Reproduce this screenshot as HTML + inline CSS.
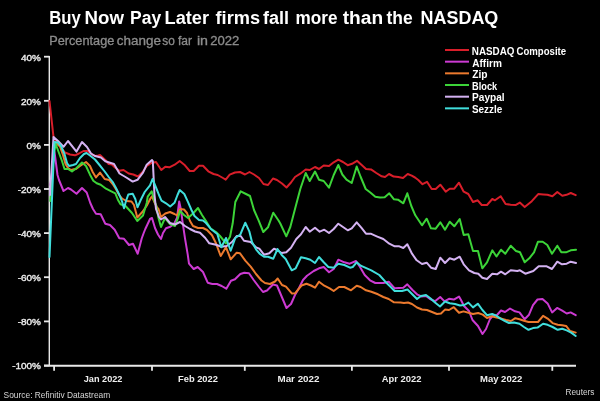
<!DOCTYPE html>
<html><head><meta charset="utf-8"><style>
html,body{margin:0;padding:0;background:#000;width:600px;height:401px;overflow:hidden}
svg{display:block}
text{font-family:"Liberation Sans",Arial,sans-serif}
</style></head><body>
<svg width="600" height="401" viewBox="0 0 600 401">
<rect width="600" height="401" fill="#000"/>
<g font-size="18.3" font-weight="bold" fill="#fff"><text transform="translate(49.16,23.7) scale(0.9113,1)">Buy</text><text transform="translate(84.52,23.7) scale(1.0201,1)">Now</text><text transform="translate(130.1,23.7) scale(0.9568,1)">Pay</text><text transform="translate(164.56,23.7) scale(0.9942,1)">Later</text><text transform="translate(215.55,23.7) scale(0.9966,1)">firms</text><text transform="translate(263.05,23.7) scale(0.984,1)">fall</text><text transform="translate(295.53,23.7) scale(0.9372,1)">more</text><text transform="translate(342.74,23.7) scale(1.047,1)">than</text><text transform="translate(386.46,23.7) scale(0.9547,1)">the</text><text transform="translate(420.57,23.7) scale(0.9812,1)">NASDAQ</text></g>
<g font-size="12" fill="#8c8c8c" stroke="#8c8c8c" stroke-width="0.3"><text transform="translate(49.2,44.5) scale(1.0622,1)">Percentage</text><text transform="translate(116.82,44.5) scale(1.1226,1)">change</text><text transform="translate(162.25,44.5) scale(0.9917,1)">so</text><text transform="translate(177.9,44.5) scale(1.0,1)">far</text><text transform="translate(196.91,44.5) scale(1.1879,1)">in</text><text transform="translate(210.25,44.5) scale(1.0913,1)">2022</text></g>
<g stroke="#e8e8e8" stroke-width="1.8"><line x1="44" y1="56.7" x2="49.5" y2="56.7"/><line x1="44" y1="100.8" x2="49.5" y2="100.8"/><line x1="44" y1="144.9" x2="49.5" y2="144.9"/><line x1="44" y1="189.0" x2="49.5" y2="189.0"/><line x1="44" y1="233.1" x2="49.5" y2="233.1"/><line x1="44" y1="277.2" x2="49.5" y2="277.2"/><line x1="44" y1="321.4" x2="49.5" y2="321.4"/><line x1="44" y1="365.5" x2="49.5" y2="365.5"/><line x1="54.1" y1="365" x2="54.1" y2="370.8"/><line x1="152" y1="365" x2="152" y2="370.8"/><line x1="244.8" y1="365" x2="244.8" y2="370.8"/><line x1="351.9" y1="365" x2="351.9" y2="370.8"/><line x1="449" y1="365" x2="449" y2="370.8"/><line x1="552.3" y1="365" x2="552.3" y2="370.8"/></g>
<g stroke="#e8e8e8" fill="none"><line x1="49.3" y1="56" x2="49.3" y2="366" stroke-width="1.4"/><line x1="44" y1="365.8" x2="576" y2="365.8" stroke-width="1.9"/></g>
<g fill="none" stroke-width="2" stroke-linejoin="round" stroke-linecap="round">
<path d="M49.5,101.0 L53.5,137.0 L54.5,139.0 L59.0,145.0 L65.0,152.5 L70.0,154.5 L75.0,155.3 L79.0,153.5 L83.5,151.0 L87.5,151.0 L91.0,153.8 L95.0,156.0 L98.3,155.5 L100.0,155.0 L105.3,160.0 L108.7,164.0 L112.0,164.5 L114.0,166.7 L119.3,170.7 L123.5,170.0 L128.7,173.5 L133.3,174.5 L138.0,176.5 L142.7,172.0 L146.7,166.0 L150.7,163.3 L156.0,162.0 L161.3,170.0 L165.3,166.7 L169.3,167.3 L174.7,164.7 L179.7,161.0 L184.3,164.7 L189.7,171.0 L193.7,171.0 L199.0,165.7 L203.0,165.7 L208.3,171.3 L213.5,174.0 L217.7,175.0 L223.0,178.0 L225.7,179.6 L229.7,174.7 L235.0,172.5 L240.0,172.0 L245.0,174.5 L249.5,172.0 L254.0,174.5 L259.0,178.0 L263.5,184.0 L268.0,185.0 L273.0,178.5 L277.0,180.0 L282.0,183.5 L286.5,187.5 L291.0,182.5 L295.0,177.0 L300.3,173.7 L305.7,169.5 L309.7,170.0 L315.0,167.0 L319.0,169.0 L323.7,165.5 L329.0,166.0 L333.7,162.3 L338.3,159.7 L343.0,162.0 L347.7,165.2 L352.0,163.8 L357.0,160.8 L361.7,165.0 L366.0,169.0 L371.0,169.4 L376.3,173.0 L381.7,176.3 L385.0,177.0 L389.0,174.0 L393.7,176.6 L398.3,177.0 L403.0,178.0 L407.7,174.0 L411.7,175.7 L415.0,177.5 L418.3,180.0 L422.5,184.2 L427.0,181.8 L431.7,189.0 L435.7,189.0 L440.3,184.7 L445.7,191.7 L449.7,188.7 L454.3,188.7 L459.0,182.7 L463.7,191.7 L468.3,194.0 L473.0,202.0 L477.7,200.3 L481.7,205.0 L487.0,205.0 L492.3,199.0 L495.0,200.3 L500.7,196.2 L505.6,204.0 L510.6,204.7 L515.5,205.1 L519.8,202.6 L524.7,207.1 L531.8,201.2 L538.2,194.1 L543.2,194.4 L547.4,194.8 L552.4,196.2 L557.3,192.0 L562.3,195.8 L566.5,194.8 L570.8,193.0 L575.7,195.2" stroke="#d81e2a"/>
<path d="M50.5,185.0 L54.5,152.0 L57.5,175.0 L59.0,180.0 L63.5,191.0 L68.0,188.0 L71.0,189.5 L76.5,193.8 L82.0,188.0 L86.7,192.5 L90.3,203.0 L93.0,209.0 L96.0,213.7 L100.7,214.3 L105.3,223.7 L110.0,225.0 L114.7,229.7 L119.3,238.3 L124.0,238.8 L129.0,245.0 L133.0,243.7 L137.7,253.7 L141.7,238.5 L143.7,233.0 L145.3,229.0 L150.0,219.0 L152.0,218.0 L155.0,228.0 L158.0,234.5 L161.0,239.0 L163.0,233.0 L166.0,228.3 L170.3,226.7 L174.0,224.0 L177.0,218.0 L179.2,201.5 L181.0,210.0 L182.5,221.7 L185.0,238.3 L187.7,254.3 L189.0,263.7 L193.7,269.0 L197.7,267.0 L203.0,272.0 L207.7,282.7 L212.3,284.0 L217.0,284.0 L221.7,286.0 L226.3,288.7 L231.0,280.7 L235.0,279.3 L240.3,274.0 L244.3,272.7 L249.0,273.3 L253.7,280.0 L259.0,287.0 L263.0,292.0 L267.0,290.5 L273.0,284.5 L277.0,285.5 L281.0,295.0 L286.5,308.0 L291.0,304.0 L295.0,295.0 L299.0,288.0 L303.0,280.0 L307.0,275.7 L313.7,271.0 L319.0,268.3 L323.7,267.0 L329.0,272.3 L333.7,269.0 L338.3,259.7 L344.3,262.3 L349.7,263.7 L356.0,261.0 L360.0,267.0 L364.7,275.0 L370.0,280.3 L375.3,283.0 L383.3,283.0 L388.7,281.7 L394.7,288.3 L403.3,287.7 L407.3,284.3 L412.5,290.0 L417.5,294.7 L421.5,296.5 L426.0,296.0 L430.0,299.0 L435.0,301.2 L440.2,297.0 L444.5,301.4 L449.0,298.8 L453.8,299.6 L459.0,296.6 L461.0,300.0 L464.0,306.0 L469.0,311.0 L472.5,320.0 L478.0,326.0 L482.5,334.0 L486.0,329.0 L490.0,319.0 L493.0,315.5 L497.0,315.0 L501.0,310.5 L505.0,312.0 L510.0,308.5 L515.0,311.3 L519.5,312.4 L524.6,319.2 L529.0,314.7 L533.0,305.1 L537.5,299.5 L542.5,298.9 L547.6,303.4 L552.1,312.4 L557.1,307.9 L562.2,310.7 L566.7,313.5 L570.6,312.4 L575.7,315.2" stroke="#cc3ad2"/>
<path d="M54.0,142.0 L57.0,144.0 L60.0,146.5 L63.0,155.0 L65.5,164.0 L68.0,168.0 L71.0,170.0 L74.0,169.3 L76.0,169.0 L80.0,166.0 L86.0,162.0 L90.0,166.0 L92.7,172.0 L96.0,177.4 L100.0,172.6 L104.7,179.0 L109.3,180.0 L112.7,184.0 L116.0,189.3 L119.3,195.3 L122.0,198.5 L126.5,201.0 L131.5,201.5 L134.0,205.0 L137.3,217.5 L142.3,212.0 L146.7,205.7 L150.3,198.7 L152.0,196.3 L154.3,202.0 L157.0,207.3 L158.5,209.0 L161.0,217.0 L165.3,213.5 L170.0,212.0 L174.5,214.0 L177.0,215.5 L180.0,209.0 L184.0,209.5 L187.0,213.0 L190.0,221.0 L193.0,226.0 L198.0,228.0 L203.0,228.0 L207.0,230.0 L212.0,235.3 L216.0,243.3 L220.7,256.0 L226.0,247.3 L230.7,259.3 L236.7,252.7 L240.0,253.3 L245.3,260.7 L250.7,266.7 L256.0,274.0 L261.5,280.5 L265.0,283.0 L270.0,284.0 L275.0,281.5 L277.7,278.5 L282.0,285.0 L286.0,286.7 L292.0,293.6 L295.0,293.3 L301.5,285.5 L306.5,283.8 L311.0,285.5 L315.0,287.7 L319.0,281.7 L324.3,285.7 L329.7,288.3 L333.7,291.0 L339.0,287.0 L344.3,287.0 L351.0,290.3 L356.7,285.7 L360.7,287.0 L366.0,290.3 L371.3,291.7 L378.0,294.3 L383.3,297.0 L388.7,299.0 L394.0,302.3 L400.5,302.6 L404.0,303.0 L408.0,302.5 L412.0,304.0 L417.0,307.5 L422.0,309.5 L427.0,310.0 L432.0,312.0 L437.0,314.0 L441.0,313.5 L445.0,309.6 L449.0,310.0 L453.8,307.2 L459.0,312.8 L463.5,311.4 L468.5,312.8 L473.0,314.0 L478.2,313.0 L482.8,314.6 L487.0,318.0 L491.5,316.3 L496.5,317.5 L501.5,318.6 L506.0,320.0 L511.0,321.0 L515.3,318.2 L519.5,319.2 L524.0,320.8 L528.5,322.0 L533.0,322.0 L538.0,322.0 L543.1,315.8 L547.6,318.6 L552.6,323.1 L557.7,324.8 L562.2,325.3 L566.1,325.9 L570.1,331.0 L575.7,332.6" stroke="#ec7a2e"/>
<path d="M50.3,201.0 L52.5,165.0 L55.5,143.5 L59.0,153.0 L62.0,161.0 L64.5,169.0 L68.0,169.0 L72.0,171.5 L76.5,168.0 L82.0,162.5 L86.0,166.0 L90.0,174.7 L93.3,180.7 L96.7,183.3 L100.7,184.7 L106.0,188.7 L111.3,191.3 L115.3,193.3 L118.0,200.0 L120.5,204.3 L125.5,206.0 L132.0,213.0 L137.3,221.0 L143.0,215.5 L146.7,203.0 L147.7,196.7 L151.7,191.3 L154.3,200.7 L156.0,205.0 L158.5,218.0 L161.0,227.0 L165.0,218.0 L170.0,224.0 L175.0,226.0 L178.0,218.0 L180.0,211.0 L184.0,215.0 L188.0,218.0 L193.0,213.5 L198.0,208.0 L202.0,215.0 L206.0,221.0 L210.7,228.7 L216.0,232.0 L220.0,236.0 L226.0,243.3 L230.0,236.7 L232.7,223.3 L235.3,202.0 L240.7,191.3 L246.0,194.0 L250.0,196.0 L254.0,210.0 L258.7,220.7 L263.3,232.0 L268.0,227.3 L273.3,212.7 L278.7,220.7 L280.3,223.5 L286.3,236.3 L290.3,227.0 L295.0,209.0 L300.3,189.0 L305.7,173.0 L309.7,181.0 L315.0,171.5 L319.0,179.7 L323.7,181.0 L329.0,187.7 L333.7,175.0 L338.3,165.0 L342.3,174.5 L346.5,179.7 L351.7,183.0 L356.7,166.5 L360.7,177.0 L365.7,189.0 L370.3,192.5 L375.3,196.7 L380.0,197.6 L384.7,197.3 L389.3,193.3 L394.0,199.3 L398.0,199.7 L403.3,203.3 L407.3,193.3 L411.3,206.0 L415.3,215.3 L422.0,225.3 L426.7,218.7 L431.0,228.3 L435.7,228.7 L440.3,222.3 L445.0,229.7 L449.7,221.7 L454.3,226.3 L459.7,219.0 L463.7,235.0 L468.3,234.3 L473.0,251.0 L478.0,251.0 L482.3,268.3 L487.0,262.3 L492.3,250.3 L496.5,256.5 L501.0,249.7 L505.3,253.7 L510.7,245.7 L516.0,251.0 L520.0,252.3 L524.7,262.3 L529.3,258.3 L534.0,252.3 L538.0,241.7 L542.7,241.7 L547.3,245.0 L552.0,253.7 L557.3,245.7 L561.3,252.3 L566.0,252.3 L570.7,250.3 L576.0,249.7" stroke="#3cd438"/>
<path d="M50.0,195.0 L53.5,137.0 L58.0,141.0 L63.5,146.8 L68.0,141.0 L76.5,151.6 L82.0,142.0 L87.0,147.0 L91.0,153.5 L95.0,156.0 L101.0,157.5 L105.3,161.3 L110.0,162.7 L114.0,164.0 L119.5,173.5 L126.3,177.5 L132.7,181.6 L137.5,179.8 L143.0,172.7 L146.7,164.7 L152.0,160.0 L152.8,161.0 L154.5,195.0 L156.0,209.0 L159.0,217.0 L161.0,219.5 L165.0,217.0 L170.0,223.0 L175.0,224.5 L180.0,222.0 L185.0,226.0 L190.0,229.0 L195.0,231.5 L200.0,232.7 L205.3,238.0 L209.3,243.3 L216.0,244.7 L221.3,246.7 L226.7,246.0 L232.0,242.0 L236.7,236.0 L240.7,236.0 L244.0,240.7 L250.7,242.0 L256.0,247.3 L259.3,248.7 L264.0,254.7 L269.3,253.3 L274.0,248.7 L277.0,250.0 L281.7,253.0 L286.3,252.3 L291.0,247.7 L296.3,239.0 L301.0,234.3 L305.7,227.0 L309.7,231.7 L315.0,227.7 L319.7,231.7 L324.3,229.7 L329.0,233.0 L333.7,229.0 L338.3,223.7 L343.0,227.0 L347.7,230.3 L351.7,228.3 L356.7,222.3 L361.3,227.7 L366.0,233.7 L370.7,233.7 L376.7,236.3 L383.3,239.0 L389.3,243.7 L394.7,246.3 L399.3,246.3 L403.3,248.0 L407.3,244.3 L412.0,253.7 L416.7,260.3 L422.0,264.0 L426.7,262.7 L431.0,267.7 L435.7,269.0 L440.3,257.7 L445.0,263.0 L449.7,258.3 L454.3,259.7 L459.7,256.7 L463.7,264.3 L469.0,270.3 L474.3,273.0 L478.3,273.7 L482.3,277.7 L487.0,279.0 L492.3,273.7 L497.0,274.3 L501.0,271.7 L505.3,274.3 L510.7,270.3 L517.3,271.0 L520.0,270.3 L525.3,273.7 L533.3,271.0 L538.7,266.3 L546.7,266.3 L552.0,269.0 L557.3,261.7 L562.0,264.3 L566.7,263.7 L570.7,261.7 L576.0,263.0" stroke="#d4b2f2"/>
<path d="M49.5,257.0 L53.0,175.0 L54.5,142.0 L58.0,142.5 L61.0,146.0 L64.5,154.0 L67.0,163.0 L69.0,166.0 L73.0,165.0 L76.0,164.0 L80.0,158.0 L84.0,154.0 L86.5,153.0 L90.0,155.5 L95.0,159.5 L99.5,165.0 L104.7,171.5 L108.7,177.0 L112.7,182.0 L116.0,188.0 L119.3,194.7 L122.0,201.3 L124.0,208.3 L126.0,201.0 L128.3,194.5 L132.7,193.8 L135.3,199.0 L137.5,207.3 L140.7,200.0 L144.7,192.0 L150.0,185.3 L152.5,179.0 L157.0,190.0 L159.0,195.0 L161.5,200.7 L166.0,203.3 L170.2,206.5 L174.5,202.8 L177.5,195.0 L179.7,190.0 L184.3,194.0 L187.7,201.3 L191.5,210.0 L194.5,216.0 L199.0,220.0 L203.0,220.5 L206.0,223.0 L210.7,228.7 L216.0,233.0 L217.3,234.0 L221.3,247.3 L226.0,238.0 L230.7,250.7 L235.3,238.0 L240.3,234.5 L245.3,222.7 L249.3,231.3 L252.0,242.0 L256.0,249.3 L260.0,254.0 L264.0,256.7 L268.0,256.7 L273.3,258.7 L277.5,249.0 L281.7,255.0 L285.7,259.0 L291.7,270.3 L295.7,268.3 L301.0,257.3 L305.7,258.3 L310.3,259.7 L315.0,263.0 L319.0,257.0 L323.5,262.0 L328.3,267.0 L333.7,267.7 L338.3,263.7 L344.3,265.0 L350.0,267.7 L352.7,267.0 L356.7,262.3 L360.7,265.7 L371.3,270.3 L379.3,275.0 L385.3,281.7 L390.0,286.3 L394.7,291.0 L402.0,291.0 L407.5,289.5 L412.0,294.0 L417.0,299.0 L421.0,296.0 L426.0,295.0 L430.0,298.0 L435.0,302.5 L440.0,306.5 L445.0,301.5 L449.7,303.3 L455.0,304.0 L460.0,305.5 L464.2,305.0 L468.4,302.6 L473.0,307.4 L477.8,303.7 L482.4,310.0 L487.0,315.2 L492.2,314.0 L496.2,315.7 L500.5,318.6 L504.5,320.8 L509.0,323.0 L514.0,322.5 L519.5,323.7 L524.0,327.0 L528.5,329.8 L533.0,328.1 L537.5,327.6 L543.1,323.7 L547.6,324.8 L552.6,327.0 L557.7,329.8 L562.2,328.7 L566.7,330.4 L571.2,332.6 L575.7,336.0" stroke="#40dedc"/>
</g>
<g font-size="10" fill="#eee" stroke="#eee" stroke-width="0.4" text-anchor="end"><text transform="translate(41,60.6) scale(1,0.86)">40%</text><text transform="translate(41,104.7) scale(1,0.86)">20%</text><text transform="translate(41,148.8) scale(1,0.86)">0%</text><text transform="translate(41,192.9) scale(1,0.86)">-20%</text><text transform="translate(41,237.0) scale(1,0.86)">-40%</text><text transform="translate(41,281.1) scale(1,0.86)">-60%</text><text transform="translate(41,325.3) scale(1,0.86)">-80%</text><text transform="translate(41,369.4) scale(1,0.86)">-100%</text></g>
<g font-size="9.4" font-weight="bold" fill="#eee"><text transform="translate(83.76,381.6) scale(0.9744,1)">Jan 2022</text><text transform="translate(178.0,381.6) scale(0.9936,1)">Feb 2022</text><text transform="translate(277.48,381.6) scale(1.0446,1)">Mar 2022</text><text transform="translate(381.75,381.6) scale(1.0,1)">Apr 2022</text><text transform="translate(479.99,381.6) scale(1.0122,1)">May 2022</text></g>
<g stroke-width="2"><line x1="445" y1="50.00" x2="469" y2="50.00" stroke="#d81e2a"/><line x1="445" y1="61.67" x2="469" y2="61.67" stroke="#cc3ad2"/><line x1="445" y1="73.34" x2="469" y2="73.34" stroke="#ec7a2e"/><line x1="445" y1="85.01" x2="469" y2="85.01" stroke="#3cd438"/><line x1="445" y1="96.68" x2="469" y2="96.68" stroke="#d4b2f2"/><line x1="445" y1="108.35" x2="469" y2="108.35" stroke="#40dedc"/></g>
<g font-size="10" font-weight="bold" fill="#fff"><text transform="translate(471.76,54.90) scale(0.987,1)">NASDAQ</text><text transform="translate(516.52,54.90) scale(0.9616,1)">Composite</text><text transform="translate(472.25,66.52) scale(1.007,1)">Affirm</text><text transform="translate(472.24,78.14) scale(1.0246,1)">Zip</text><text transform="translate(472.11,89.76) scale(0.9245,1)">Block</text><text transform="translate(472.04,101.38) scale(1.0114,1)">Paypal</text><text transform="translate(471.95,113.00) scale(0.9967,1)">Sezzle</text></g>
<text x="3.6" y="398" font-size="8.4" fill="#d6d6d6">Source: Refinitiv Datastream</text>
<text x="594.5" y="395.3" font-size="8.3" fill="#d6d6d6" text-anchor="end">Reuters</text>
</svg>
</body></html>
